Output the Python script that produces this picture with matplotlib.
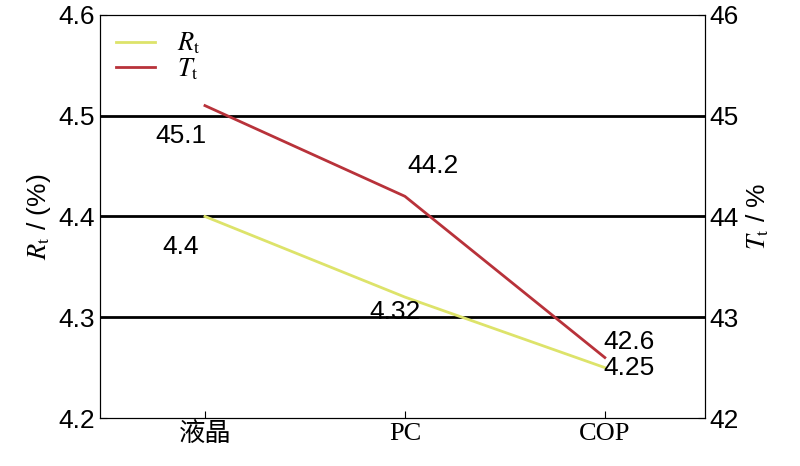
import matplotlib
matplotlib.use("Agg")
import matplotlib.pyplot as plt

categories = ["液晶", "PC", "COP"]
rt_values = [4.4, 4.32, 4.25]
tt_values = [45.1, 44.2, 42.6]
rt_labels = ["4.4", "4.32", "4.25"]
tt_labels = ["45.1", "44.2", "42.6"]

plt.rcParams['font.family'] = ['Liberation Sans', 'Noto Sans CJK SC']
plt.rcParams['mathtext.fontset'] = 'stix'
fig = plt.figure(figsize=(8, 4.66), dpi=100)
ax = fig.add_axes([0.125, 0.103, 0.756, 0.865])
ax2 = ax.twinx()
x = list(range(len(categories)))
ax.set_xlim(-0.525, 2.5)
ax.set_ylim(4.2, 4.6)
ax2.set_ylim(42, 46)
for y in [4.3, 4.4, 4.5]:
    ax.axhline(y, color='black', lw=2, zorder=1)
l1, = ax.plot(x, rt_values, color='#dde36a', lw=2, label='$R_\\mathrm{t}$', zorder=3)
l2, = ax2.plot(x, tt_values, color='#b8323a', lw=2, label='$T_\\mathrm{t}$', zorder=3)
fs = 19
rt_off = [(-0.12, -0.03), (-0.05, -0.015), (0.12, -0.0), (0, 0)]
tt_off = [(-0.12, -0.3), (0.14, 0.3), (0.12, 0.15)]
for i in x:
    ax.text(i + rt_off[i][0], rt_values[i] + rt_off[i][1], rt_labels[i], fontsize=fs, ha='center', va='center')
    ax2.text(i + tt_off[i][0], tt_values[i] + tt_off[i][1], tt_labels[i], fontsize=fs, ha='center', va='center')
ax.set_xticks(x)
ax.set_xticklabels(categories, fontsize=fs, family=['Liberation Serif', 'Noto Sans CJK SC'])
ax.set_yticks([4.2, 4.3, 4.4, 4.5, 4.6])
ax.set_yticklabels(["4.2", "4.3", "4.4", "4.5", "4.6"], fontsize=fs)
ax2.set_yticks([42, 43, 44, 45, 46])
ax2.tick_params(labelsize=fs)
ax.tick_params(direction='in', length=5)
ax2.tick_params(direction='in', length=5)
ax.set_ylabel('$R_\\mathrm{t}$ / (%)', fontsize=fs)
ax2.set_ylabel('$T_\\mathrm{t}$ / %', fontsize=fs)
leg = ax.legend(handles=[l1, l2], loc='upper left', frameon=False, fontsize=fs,
                handlelength=1.5, borderaxespad=0.2, labelspacing=0.0)
fig.savefig("out.png", dpi=100)
